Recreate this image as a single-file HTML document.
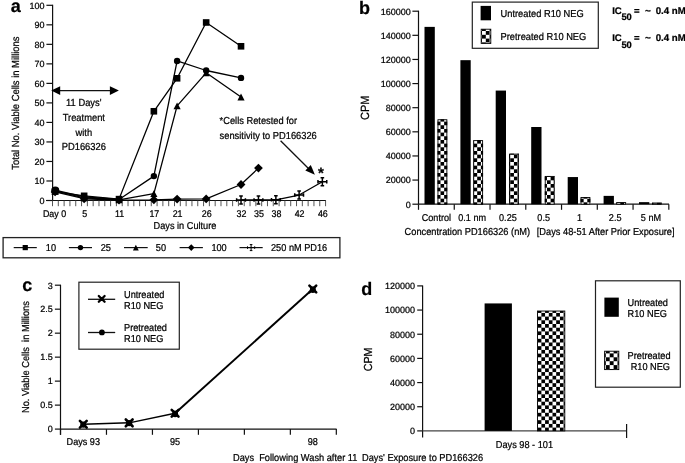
<!DOCTYPE html>
<html><head><meta charset="utf-8"><style>
html,body{margin:0;padding:0;background:#fff;}
svg{display:block;filter:blur(0.35px);}
text{font-family:"Liberation Sans", sans-serif;text-rendering:geometricPrecision;fill:#000;stroke:#000;stroke-width:0.22px;}
</style></head><body>
<svg width="685" height="463" viewBox="0 0 685 463">
<defs><pattern id="pb" patternUnits="userSpaceOnUse" x="436.83" y="121.6" width="7.34" height="7.34"><rect width="7.34" height="7.34" fill="#fff"/><rect width="3.67" height="3.67" fill="#000"/><rect x="3.67" y="3.67" width="3.67" height="3.67" fill="#000"/></pattern><pattern id="pbl" patternUnits="userSpaceOnUse" x="478.2" y="31" width="7.6" height="7.6"><rect width="7.6" height="7.6" fill="#fff"/><rect width="3.8" height="3.8" fill="#000"/><rect x="3.8" y="3.8" width="3.8" height="3.8" fill="#000"/></pattern><pattern id="pd" patternUnits="userSpaceOnUse" x="534" y="312.9" width="7.4" height="7.4"><rect width="7.4" height="7.4" fill="#fff"/><rect width="3.7" height="3.7" fill="#000"/><rect x="3.7" y="3.7" width="3.7" height="3.7" fill="#000"/></pattern><pattern id="pdl" patternUnits="userSpaceOnUse" x="601.9" y="353.4" width="7.8" height="7.8"><rect width="7.8" height="7.8" fill="#fff"/><rect width="3.9" height="3.9" fill="#000"/><rect x="3.9" y="3.9" width="3.9" height="3.9" fill="#000"/></pattern></defs>
<rect width="685" height="463" fill="#fff"/>
<text x="10.7" y="11.5" font-size="18" text-anchor="start" font-weight="bold">a</text>
<line x1="52.6" y1="4.8" x2="52.6" y2="200.5" stroke="#111" stroke-width="1.2"/>
<line x1="46.4" y1="200.5" x2="52.6" y2="200.5" stroke="#111" stroke-width="1.2"/>
<text x="44.5" y="203.8" font-size="9.0" text-anchor="end">0</text>
<line x1="46.4" y1="180.98" x2="52.6" y2="180.98" stroke="#111" stroke-width="1.2"/>
<text x="44.5" y="184.28" font-size="9.0" text-anchor="end">10</text>
<line x1="46.4" y1="161.46" x2="52.6" y2="161.46" stroke="#111" stroke-width="1.2"/>
<text x="44.5" y="164.76" font-size="9.0" text-anchor="end">20</text>
<line x1="46.4" y1="141.94" x2="52.6" y2="141.94" stroke="#111" stroke-width="1.2"/>
<text x="44.5" y="145.24" font-size="9.0" text-anchor="end">30</text>
<line x1="46.4" y1="122.42" x2="52.6" y2="122.42" stroke="#111" stroke-width="1.2"/>
<text x="44.5" y="125.72" font-size="9.0" text-anchor="end">40</text>
<line x1="46.4" y1="102.9" x2="52.6" y2="102.9" stroke="#111" stroke-width="1.2"/>
<text x="44.5" y="106.2" font-size="9.0" text-anchor="end">50</text>
<line x1="46.4" y1="83.38" x2="52.6" y2="83.38" stroke="#111" stroke-width="1.2"/>
<text x="44.5" y="86.68" font-size="9.0" text-anchor="end">60</text>
<line x1="46.4" y1="63.86" x2="52.6" y2="63.86" stroke="#111" stroke-width="1.2"/>
<text x="44.5" y="67.16" font-size="9.0" text-anchor="end">70</text>
<line x1="46.4" y1="44.34" x2="52.6" y2="44.34" stroke="#111" stroke-width="1.2"/>
<text x="44.5" y="47.64" font-size="9.0" text-anchor="end">80</text>
<line x1="46.4" y1="24.82" x2="52.6" y2="24.82" stroke="#111" stroke-width="1.2"/>
<text x="44.5" y="28.12" font-size="9.0" text-anchor="end">90</text>
<line x1="46.4" y1="5.3" x2="52.6" y2="5.3" stroke="#111" stroke-width="1.2"/>
<text x="44.5" y="8.6" font-size="9.0" text-anchor="end">100</text>
<line x1="46" y1="200.5" x2="325.9" y2="200.5" stroke="#111" stroke-width="1.2"/>
<line x1="52.5" y1="200.5" x2="52.5" y2="206.2" stroke="#444" stroke-width="0.9"/>
<line x1="58.31" y1="200.5" x2="58.31" y2="206.2" stroke="#444" stroke-width="0.9"/>
<line x1="64.12" y1="200.5" x2="64.12" y2="206.2" stroke="#444" stroke-width="0.9"/>
<line x1="69.93" y1="200.5" x2="69.93" y2="206.2" stroke="#444" stroke-width="0.9"/>
<line x1="75.74" y1="200.5" x2="75.74" y2="206.2" stroke="#444" stroke-width="0.9"/>
<line x1="81.55" y1="200.5" x2="81.55" y2="206.2" stroke="#444" stroke-width="0.9"/>
<line x1="87.36" y1="200.5" x2="87.36" y2="206.2" stroke="#444" stroke-width="0.9"/>
<line x1="93.17" y1="200.5" x2="93.17" y2="206.2" stroke="#444" stroke-width="0.9"/>
<line x1="98.98" y1="200.5" x2="98.98" y2="206.2" stroke="#444" stroke-width="0.9"/>
<line x1="104.79" y1="200.5" x2="104.79" y2="206.2" stroke="#444" stroke-width="0.9"/>
<line x1="110.6" y1="200.5" x2="110.6" y2="206.2" stroke="#444" stroke-width="0.9"/>
<line x1="116.41" y1="200.5" x2="116.41" y2="206.2" stroke="#444" stroke-width="0.9"/>
<line x1="122.22" y1="200.5" x2="122.22" y2="206.2" stroke="#444" stroke-width="0.9"/>
<line x1="128.03" y1="200.5" x2="128.03" y2="206.2" stroke="#444" stroke-width="0.9"/>
<line x1="133.84" y1="200.5" x2="133.84" y2="206.2" stroke="#444" stroke-width="0.9"/>
<line x1="139.65" y1="200.5" x2="139.65" y2="206.2" stroke="#444" stroke-width="0.9"/>
<line x1="145.46" y1="200.5" x2="145.46" y2="206.2" stroke="#444" stroke-width="0.9"/>
<line x1="151.27" y1="200.5" x2="151.27" y2="206.2" stroke="#444" stroke-width="0.9"/>
<line x1="157.08" y1="200.5" x2="157.08" y2="206.2" stroke="#444" stroke-width="0.9"/>
<line x1="162.89" y1="200.5" x2="162.89" y2="206.2" stroke="#444" stroke-width="0.9"/>
<line x1="168.7" y1="200.5" x2="168.7" y2="206.2" stroke="#444" stroke-width="0.9"/>
<line x1="174.51" y1="200.5" x2="174.51" y2="206.2" stroke="#444" stroke-width="0.9"/>
<line x1="180.32" y1="200.5" x2="180.32" y2="206.2" stroke="#444" stroke-width="0.9"/>
<line x1="186.13" y1="200.5" x2="186.13" y2="206.2" stroke="#444" stroke-width="0.9"/>
<line x1="191.94" y1="200.5" x2="191.94" y2="206.2" stroke="#444" stroke-width="0.9"/>
<line x1="197.75" y1="200.5" x2="197.75" y2="206.2" stroke="#444" stroke-width="0.9"/>
<line x1="203.56" y1="200.5" x2="203.56" y2="206.2" stroke="#444" stroke-width="0.9"/>
<line x1="209.37" y1="200.5" x2="209.37" y2="206.2" stroke="#444" stroke-width="0.9"/>
<line x1="215.18" y1="200.5" x2="215.18" y2="206.2" stroke="#444" stroke-width="0.9"/>
<line x1="220.99" y1="200.5" x2="220.99" y2="206.2" stroke="#444" stroke-width="0.9"/>
<line x1="226.8" y1="200.5" x2="226.8" y2="206.2" stroke="#444" stroke-width="0.9"/>
<line x1="232.61" y1="200.5" x2="232.61" y2="206.2" stroke="#444" stroke-width="0.9"/>
<line x1="238.42" y1="200.5" x2="238.42" y2="206.2" stroke="#444" stroke-width="0.9"/>
<line x1="244.23" y1="200.5" x2="244.23" y2="206.2" stroke="#444" stroke-width="0.9"/>
<line x1="250.04" y1="200.5" x2="250.04" y2="206.2" stroke="#444" stroke-width="0.9"/>
<line x1="255.85" y1="200.5" x2="255.85" y2="206.2" stroke="#444" stroke-width="0.9"/>
<line x1="261.66" y1="200.5" x2="261.66" y2="206.2" stroke="#444" stroke-width="0.9"/>
<line x1="267.47" y1="200.5" x2="267.47" y2="206.2" stroke="#444" stroke-width="0.9"/>
<line x1="273.28" y1="200.5" x2="273.28" y2="206.2" stroke="#444" stroke-width="0.9"/>
<line x1="279.09" y1="200.5" x2="279.09" y2="206.2" stroke="#444" stroke-width="0.9"/>
<line x1="284.9" y1="200.5" x2="284.9" y2="206.2" stroke="#444" stroke-width="0.9"/>
<line x1="290.71" y1="200.5" x2="290.71" y2="206.2" stroke="#444" stroke-width="0.9"/>
<line x1="296.52" y1="200.5" x2="296.52" y2="206.2" stroke="#444" stroke-width="0.9"/>
<line x1="302.33" y1="200.5" x2="302.33" y2="206.2" stroke="#444" stroke-width="0.9"/>
<line x1="308.14" y1="200.5" x2="308.14" y2="206.2" stroke="#444" stroke-width="0.9"/>
<line x1="313.95" y1="200.5" x2="313.95" y2="206.2" stroke="#444" stroke-width="0.9"/>
<line x1="319.76" y1="200.5" x2="319.76" y2="206.2" stroke="#444" stroke-width="0.9"/>
<line x1="325.57" y1="200.5" x2="325.57" y2="206.2" stroke="#444" stroke-width="0.9"/>
<text transform="translate(54.5 216.8) scale(1 1.09)" font-size="8.9" text-anchor="middle">Day 0</text>
<text transform="translate(84.65 216.8) scale(1 1.09)" font-size="8.9" text-anchor="middle">5</text>
<text transform="translate(119.51 216.8) scale(1 1.09)" font-size="8.9" text-anchor="middle">11</text>
<text transform="translate(154.37 216.8) scale(1 1.09)" font-size="8.9" text-anchor="middle">17</text>
<text transform="translate(177.61 216.8) scale(1 1.09)" font-size="8.9" text-anchor="middle">21</text>
<text transform="translate(206.66 216.8) scale(1 1.09)" font-size="8.9" text-anchor="middle">26</text>
<text transform="translate(241.52 216.8) scale(1 1.09)" font-size="8.9" text-anchor="middle">32</text>
<text transform="translate(258.95 216.8) scale(1 1.09)" font-size="8.9" text-anchor="middle">35</text>
<text transform="translate(276.38 216.8) scale(1 1.09)" font-size="8.9" text-anchor="middle">38</text>
<text transform="translate(299.62 216.8) scale(1 1.09)" font-size="8.9" text-anchor="middle">42</text>
<text transform="translate(322.86 216.8) scale(1 1.09)" font-size="8.9" text-anchor="middle">46</text>
<text transform="translate(185 228.6) scale(1 1.09)" font-size="9.2" text-anchor="middle">Days in Culture</text>
<text x="0" y="0" font-size="9.42" text-anchor="middle" transform="translate(19.1 103.1) rotate(-90) scale(1 1.09)">Total No. Viable Cells in Millions</text>
<polyline points="55.1,191.52 84.15,195.82 119.01,199.13 153.87,111.29 177.11,78.3 206.16,22.48 241.02,46.29" fill="none" stroke="#000" stroke-width="1.3" stroke-linejoin="round"/>
<polyline points="55.1,190.15 84.15,196.79 119.01,199.52 153.87,176.1 177.11,60.93 206.16,70.5 241.02,77.91" fill="none" stroke="#000" stroke-width="1.3" stroke-linejoin="round"/>
<polyline points="55.1,190.94 84.15,197.77 119.01,199.91 153.87,193.67 177.11,105.83 206.16,72.84 241.02,97.04" fill="none" stroke="#000" stroke-width="1.3" stroke-linejoin="round"/>
<polyline points="55.1,191.91 84.15,198.74 119.01,200.11 153.87,199.82 177.11,199.04 206.16,198.94 241.02,184.49 258.45,168.1" fill="none" stroke="#000" stroke-width="1.3" stroke-linejoin="round"/>
<polyline points="241.02,200.01 258.45,200.01 275.88,199.82 299.12,195.03 322.36,181.76" fill="none" stroke="#000" stroke-width="1.3" stroke-linejoin="round"/>
<polygon points="55.1,187.51 59.5,191.91 55.1,196.31 50.7,191.91" fill="#000"/>
<polygon points="84.15,194.34 88.55,198.74 84.15,203.14 79.75,198.74" fill="#000"/>
<polygon points="119.01,195.71 123.41,200.11 119.01,204.51 114.61,200.11" fill="#000"/>
<polygon points="153.87,195.42 158.27,199.82 153.87,204.22 149.47,199.82" fill="#000"/>
<polygon points="177.11,194.64 181.51,199.04 177.11,203.44 172.71,199.04" fill="#000"/>
<polygon points="206.16,194.54 210.56,198.94 206.16,203.34 201.76,198.94" fill="#000"/>
<polygon points="241.02,180.09 245.42,184.49 241.02,188.89 236.62,184.49" fill="#000"/>
<polygon points="258.45,163.7 262.85,168.1 258.45,172.5 254.05,168.1" fill="#000"/>
<polygon points="55.1,187.49 58.69,194.39 51.51,194.39" fill="#000"/>
<polygon points="84.15,194.32 87.74,201.22 80.56,201.22" fill="#000"/>
<polygon points="119.01,196.46 122.6,203.36 115.42,203.36" fill="#000"/>
<polygon points="153.87,190.22 157.46,197.12 150.28,197.12" fill="#000"/>
<polygon points="177.11,102.38 180.7,109.28 173.52,109.28" fill="#000"/>
<polygon points="206.16,69.39 209.75,76.29 202.57,76.29" fill="#000"/>
<polygon points="241.02,93.59 244.61,100.49 237.43,100.49" fill="#000"/>
<circle cx="55.1" cy="190.15" r="3.2" fill="#000"/>
<circle cx="84.15" cy="196.79" r="3.2" fill="#000"/>
<circle cx="119.01" cy="199.52" r="3.2" fill="#000"/>
<circle cx="153.87" cy="176.1" r="3.2" fill="#000"/>
<circle cx="177.11" cy="60.93" r="3.2" fill="#000"/>
<circle cx="206.16" cy="70.5" r="3.2" fill="#000"/>
<circle cx="241.02" cy="77.91" r="3.2" fill="#000"/>
<rect x="51.8" y="188.22" width="6.6" height="6.6" fill="#000"/>
<rect x="80.85" y="192.52" width="6.6" height="6.6" fill="#000"/>
<rect x="115.71" y="195.83" width="6.6" height="6.6" fill="#000"/>
<rect x="150.57" y="107.99" width="6.6" height="6.6" fill="#000"/>
<rect x="173.81" y="75" width="6.6" height="6.6" fill="#000"/>
<rect x="202.86" y="19.18" width="6.6" height="6.6" fill="#000"/>
<rect x="237.72" y="42.99" width="6.6" height="6.6" fill="#000"/>
<path d="M241.02 196.01V204.01M236.62 200.01H245.42M239.22 196.01H242.82M239.22 204.01H242.82M236.62 198.21V201.81M245.42 198.21V201.81" stroke="#000" stroke-width="1.5" fill="none"/>
<path d="M258.45 196.01V204.01M254.05 200.01H262.85M256.65 196.01H260.25M256.65 204.01H260.25M254.05 198.21V201.81M262.85 198.21V201.81" stroke="#000" stroke-width="1.5" fill="none"/>
<path d="M275.88 195.82V203.82M271.48 199.82H280.28M274.08 195.82H277.68M274.08 203.82H277.68M271.48 198.02V201.62M280.28 198.02V201.62" stroke="#000" stroke-width="1.5" fill="none"/>
<path d="M299.12 191.03V199.03M294.72 195.03H303.52M297.32 191.03H300.92M297.32 199.03H300.92M294.72 193.23V196.83M303.52 193.23V196.83" stroke="#000" stroke-width="1.5" fill="none"/>
<path d="M322.36 177.76V185.76M317.96 181.76H326.76M320.56 177.76H324.16M320.56 185.76H324.16M317.96 179.96V183.56M326.76 179.96V183.56" stroke="#000" stroke-width="1.5" fill="none"/>
<circle cx="55.3" cy="190.54" r="4" fill="#000"/>
<line x1="57" y1="90.6" x2="114" y2="90.6" stroke="#111" stroke-width="1.4"/>
<polygon points="51.2,90.6 60.2,86.2 60.2,95" fill="#000"/>
<polygon points="118.9,90.6 109.9,86.2 109.9,95" fill="#000"/>
<text transform="translate(83.8 105.9) scale(1 1.09)" font-size="9.35" text-anchor="middle">11 Days'</text>
<text transform="translate(83.8 120.7) scale(1 1.09)" font-size="9.35" text-anchor="middle">Treatment</text>
<text transform="translate(83.8 135.5) scale(1 1.09)" font-size="9.35" text-anchor="middle">with</text>
<text transform="translate(83.8 150.3) scale(1 1.09)" font-size="9.35" text-anchor="middle">PD166326</text>
<text transform="translate(219.6 124) scale(1 1.09)" font-size="9.3" text-anchor="start">*Cells Retested for</text>
<text transform="translate(219.6 138.9) scale(1 1.09)" font-size="9.3" text-anchor="start">sensitivity to PD166326</text>
<line x1="280.6" y1="140.8" x2="310" y2="170" stroke="#111" stroke-width="1.3"/>
<polygon points="314.9,174.8 305.3,170.4 310.8,164.9" fill="#000"/>
<text x="318" y="177.5" font-size="15" text-anchor="start" font-weight="bold">*</text>
<rect x="3.1" y="237.6" width="336.8" height="20.2" fill="none" stroke="#222" stroke-width="1.3"/>
<line x1="13.7" y1="247.6" x2="36.8" y2="247.6" stroke="#111" stroke-width="1.2"/>
<rect x="22.65" y="245" width="5.2" height="5.2" fill="#000"/>
<text transform="translate(45.8 251) scale(1 1.09)" font-size="9.2" text-anchor="start">10</text>
<line x1="68.9" y1="247.6" x2="92" y2="247.6" stroke="#111" stroke-width="1.2"/>
<circle cx="80.45" cy="247.6" r="2.7" fill="#000"/>
<text transform="translate(100.7 251) scale(1 1.09)" font-size="9.2" text-anchor="start">25</text>
<line x1="124" y1="247.6" x2="147.7" y2="247.6" stroke="#111" stroke-width="1.2"/>
<polygon points="135.85,244.8 138.76,250.4 132.94,250.4" fill="#000"/>
<text transform="translate(155.8 251) scale(1 1.09)" font-size="9.2" text-anchor="start">50</text>
<line x1="179.6" y1="247.6" x2="202.9" y2="247.6" stroke="#111" stroke-width="1.2"/>
<polygon points="191.25,244.3 194.55,247.6 191.25,250.9 187.95,247.6" fill="#000"/>
<text transform="translate(211.4 251) scale(1 1.09)" font-size="9.2" text-anchor="start">100</text>
<line x1="239.5" y1="247.6" x2="262.7" y2="247.6" stroke="#111" stroke-width="1.2"/>
<path d="M251.1 244.6V250.6M247.5 247.6H254.7M249.8 244.6H252.4M249.8 250.6H252.4M247.5 246.3V248.9M254.7 246.3V248.9" stroke="#000" stroke-width="1.0" fill="none"/>
<text transform="translate(271 251) scale(1 1.09)" font-size="9.2" text-anchor="start">250 nM PD16</text>
<text x="358.9" y="13.6" font-size="18" text-anchor="start" font-weight="bold">b</text>
<line x1="418.5" y1="10.7" x2="418.5" y2="204.2" stroke="#111" stroke-width="1.2"/>
<line x1="412.4" y1="11.2" x2="418.5" y2="11.2" stroke="#111" stroke-width="1.2"/>
<text x="410.8" y="14.5" font-size="9.0" text-anchor="end">160000</text>
<line x1="412.4" y1="35.32" x2="418.5" y2="35.32" stroke="#111" stroke-width="1.2"/>
<text x="410.8" y="38.62" font-size="9.0" text-anchor="end">140000</text>
<line x1="412.4" y1="59.45" x2="418.5" y2="59.45" stroke="#111" stroke-width="1.2"/>
<text x="410.8" y="62.75" font-size="9.0" text-anchor="end">120000</text>
<line x1="412.4" y1="83.57" x2="418.5" y2="83.57" stroke="#111" stroke-width="1.2"/>
<text x="410.8" y="86.87" font-size="9.0" text-anchor="end">100000</text>
<line x1="412.4" y1="107.7" x2="418.5" y2="107.7" stroke="#111" stroke-width="1.2"/>
<text x="410.8" y="111" font-size="9.0" text-anchor="end">80000</text>
<line x1="412.4" y1="131.82" x2="418.5" y2="131.82" stroke="#111" stroke-width="1.2"/>
<text x="410.8" y="135.12" font-size="9.0" text-anchor="end">60000</text>
<line x1="412.4" y1="155.95" x2="418.5" y2="155.95" stroke="#111" stroke-width="1.2"/>
<text x="410.8" y="159.25" font-size="9.0" text-anchor="end">40000</text>
<line x1="412.4" y1="180.07" x2="418.5" y2="180.07" stroke="#111" stroke-width="1.2"/>
<text x="410.8" y="183.38" font-size="9.0" text-anchor="end">20000</text>
<line x1="412.4" y1="204.2" x2="418.5" y2="204.2" stroke="#111" stroke-width="1.2"/>
<text x="410.8" y="207.5" font-size="9.0" text-anchor="end">0</text>
<line x1="418.5" y1="204.2" x2="669" y2="204.2" stroke="#111" stroke-width="1.2"/>
<line x1="418.5" y1="204.2" x2="418.5" y2="209.8" stroke="#111" stroke-width="1.2"/>
<line x1="454.26" y1="204.2" x2="454.26" y2="209.8" stroke="#111" stroke-width="1.2"/>
<line x1="490.02" y1="204.2" x2="490.02" y2="209.8" stroke="#111" stroke-width="1.2"/>
<line x1="525.78" y1="204.2" x2="525.78" y2="209.8" stroke="#111" stroke-width="1.2"/>
<line x1="561.54" y1="204.2" x2="561.54" y2="209.8" stroke="#111" stroke-width="1.2"/>
<line x1="597.3" y1="204.2" x2="597.3" y2="209.8" stroke="#111" stroke-width="1.2"/>
<line x1="633.06" y1="204.2" x2="633.06" y2="209.8" stroke="#111" stroke-width="1.2"/>
<line x1="668.82" y1="204.2" x2="668.82" y2="209.8" stroke="#111" stroke-width="1.2"/>
<rect x="424.5" y="26.88" width="10.3" height="177.32" fill="#000"/>
<rect x="437.5" y="119.28" width="9.8" height="84.92" fill="url(#pb)"/>
<rect x="437.95" y="119.73" width="8.9" height="84.47" fill="none" stroke="#000" stroke-width="0.9"/>
<text transform="translate(436.38 220.8) scale(1 1.09)" font-size="9.1" text-anchor="middle">Control</text>
<rect x="460.4" y="60.17" width="10.3" height="144.03" fill="#000"/>
<rect x="473.26" y="140.15" width="9.8" height="64.05" fill="url(#pb)"/>
<rect x="473.71" y="140.6" width="8.9" height="63.6" fill="none" stroke="#000" stroke-width="0.9"/>
<text transform="translate(472.14 220.8) scale(1 1.09)" font-size="9.1" text-anchor="middle">0.1 nm</text>
<rect x="495.7" y="90.57" width="10.3" height="113.63" fill="#000"/>
<rect x="509.02" y="153.66" width="9.8" height="50.54" fill="url(#pb)"/>
<rect x="509.47" y="154.11" width="8.9" height="50.09" fill="none" stroke="#000" stroke-width="0.9"/>
<text transform="translate(507.9 220.8) scale(1 1.09)" font-size="9.1" text-anchor="middle">0.25</text>
<rect x="531.2" y="127" width="10.3" height="77.2" fill="#000"/>
<rect x="544.78" y="175.97" width="9.8" height="28.23" fill="url(#pb)"/>
<rect x="545.23" y="176.42" width="8.9" height="27.78" fill="none" stroke="#000" stroke-width="0.9"/>
<text transform="translate(543.66 220.8) scale(1 1.09)" font-size="9.1" text-anchor="middle">0.5</text>
<rect x="567.7" y="177.06" width="10.3" height="27.14" fill="#000"/>
<rect x="580.54" y="197.08" width="9.8" height="7.12" fill="url(#pb)"/>
<rect x="580.99" y="197.53" width="8.9" height="6.67" fill="none" stroke="#000" stroke-width="0.9"/>
<text transform="translate(579.42 220.8) scale(1 1.09)" font-size="9.1" text-anchor="middle">1</text>
<rect x="603.6" y="195.88" width="10.3" height="8.32" fill="#000"/>
<rect x="616.3" y="202.15" width="9.8" height="2.05" fill="url(#pb)"/>
<rect x="616.75" y="202.6" width="8.9" height="1.6" fill="none" stroke="#000" stroke-width="0.9"/>
<text transform="translate(615.18 220.8) scale(1 1.09)" font-size="9.1" text-anchor="middle">2.5</text>
<rect x="639" y="202.15" width="10.3" height="2.05" fill="#000"/>
<rect x="652.06" y="202.63" width="9.8" height="1.57" fill="url(#pb)"/>
<rect x="652.51" y="203.08" width="8.9" height="1.12" fill="none" stroke="#000" stroke-width="0.9"/>
<text transform="translate(650.94 220.8) scale(1 1.09)" font-size="9.1" text-anchor="middle">5 nM</text>
<text transform="translate(404.6 235.4) scale(1 1.09)" font-size="9.25" text-anchor="start">Concentration PD166326 (nM)</text>
<text transform="translate(536.8 235.4) scale(1 1.09)" font-size="9.25" text-anchor="start">[Days 48-51 After Prior Exposure]</text>
<text x="0" y="0" font-size="10.9" text-anchor="middle" transform="translate(369.3 107.8) rotate(-90) scale(1 1.09)">CPM</text>
<rect x="472.3" y="2.1" width="126" height="46.2" fill="none" stroke="#222" stroke-width="1.2"/>
<rect x="480.6" y="5.9" width="10.4" height="14.4" fill="#000"/>
<rect x="481.2" y="29.2" width="9.6" height="14.2" fill="url(#pbl)" stroke="#000" stroke-width="0.9"/>
<text transform="translate(500.5 16.7) scale(1 1.09)" font-size="9.3" text-anchor="start">Untreated R10 NEG</text>
<text transform="translate(500.5 39.8) scale(1 1.09)" font-size="9.3" text-anchor="start">Pretreated R10 NEG</text>
<text x="612.2" y="13.6" font-size="9.6" text-anchor="start" font-weight="bold">IC</text>
<text x="621.4" y="20.2" font-size="9.4" text-anchor="start" font-weight="bold">50</text>
<text x="634" y="13.6" font-size="9.6" text-anchor="start" font-weight="bold">=</text>
<text x="645" y="13.6" font-size="9.8" text-anchor="start" font-weight="bold">~</text>
<text x="655.7" y="13.6" font-size="9.7" text-anchor="start" font-weight="bold">0.4 nM</text>
<text x="612.2" y="41.1" font-size="9.6" text-anchor="start" font-weight="bold">IC</text>
<text x="621.4" y="47.7" font-size="9.4" text-anchor="start" font-weight="bold">50</text>
<text x="634" y="41.1" font-size="9.6" text-anchor="start" font-weight="bold">=</text>
<text x="645" y="41.1" font-size="9.8" text-anchor="start" font-weight="bold">~</text>
<text x="655.7" y="41.1" font-size="9.7" text-anchor="start" font-weight="bold">0.4 nM</text>
<text x="22.3" y="291.3" font-size="18" text-anchor="start" font-weight="bold">c</text>
<line x1="60.5" y1="284.7" x2="60.5" y2="434.8" stroke="#111" stroke-width="1.2"/>
<line x1="54.9" y1="285.2" x2="60.5" y2="285.2" stroke="#111" stroke-width="1.2"/>
<text x="52.8" y="288.5" font-size="9.0" text-anchor="end">3</text>
<line x1="54.9" y1="309.18" x2="60.5" y2="309.18" stroke="#111" stroke-width="1.2"/>
<text x="52.8" y="312.48" font-size="9.0" text-anchor="end">2.5</text>
<line x1="54.9" y1="333.17" x2="60.5" y2="333.17" stroke="#111" stroke-width="1.2"/>
<text x="52.8" y="336.47" font-size="9.0" text-anchor="end">2</text>
<line x1="54.9" y1="357.15" x2="60.5" y2="357.15" stroke="#111" stroke-width="1.2"/>
<text x="52.8" y="360.45" font-size="9.0" text-anchor="end">1.5</text>
<line x1="54.9" y1="381.13" x2="60.5" y2="381.13" stroke="#111" stroke-width="1.2"/>
<text x="52.8" y="384.43" font-size="9.0" text-anchor="end">1</text>
<line x1="54.9" y1="405.12" x2="60.5" y2="405.12" stroke="#111" stroke-width="1.2"/>
<text x="52.8" y="408.42" font-size="9.0" text-anchor="end">0.5</text>
<line x1="54.9" y1="429.1" x2="60.5" y2="429.1" stroke="#111" stroke-width="1.2"/>
<text x="52.8" y="432.4" font-size="9.0" text-anchor="end">0</text>
<line x1="60.5" y1="429.1" x2="336.6" y2="429.1" stroke="#111" stroke-width="1.2"/>
<line x1="60.5" y1="429.1" x2="60.5" y2="434.8" stroke="#111" stroke-width="1.2"/>
<line x1="106.47" y1="429.1" x2="106.47" y2="434.8" stroke="#111" stroke-width="1.2"/>
<line x1="152.44" y1="429.1" x2="152.44" y2="434.8" stroke="#111" stroke-width="1.2"/>
<line x1="198.41" y1="429.1" x2="198.41" y2="434.8" stroke="#111" stroke-width="1.2"/>
<line x1="244.38" y1="429.1" x2="244.38" y2="434.8" stroke="#111" stroke-width="1.2"/>
<line x1="290.35" y1="429.1" x2="290.35" y2="434.8" stroke="#111" stroke-width="1.2"/>
<line x1="336.32" y1="429.1" x2="336.32" y2="434.8" stroke="#111" stroke-width="1.2"/>
<text transform="translate(83.3 445) scale(1 1.09)" font-size="9.1" text-anchor="middle">Days 93</text>
<text transform="translate(175.1 445) scale(1 1.09)" font-size="9.1" text-anchor="middle">95</text>
<text transform="translate(312.8 445) scale(1 1.09)" font-size="9.1" text-anchor="middle">98</text>
<text x="0" y="0" font-size="9.3" text-anchor="middle" transform="translate(29.0 357.1) rotate(-90) scale(1 1.09)">No. Viable Cells&#160; in Millions</text>
<text transform="translate(233 460.9) scale(1 1.09)" font-size="9.25" text-anchor="start">Days&#160; Following Wash after 11</text>
<text transform="translate(362 460.9) scale(1 1.09)" font-size="9.25" text-anchor="start">Days' Exposure to PD166326</text>
<polyline points="83.3,424.3 129.2,422.86 175.1,413.27" fill="none" stroke="#000" stroke-width="1.5" stroke-linejoin="round"/>
<polyline points="175.1,413.27 312.8,289.04" fill="none" stroke="#000" stroke-width="1.9" stroke-linejoin="round"/>
<circle cx="83.3" cy="424.78" r="3" fill="#000"/>
<circle cx="129.2" cy="423.34" r="3" fill="#000"/>
<circle cx="175.1" cy="414.23" r="3" fill="#000"/>
<circle cx="312.8" cy="290" r="3" fill="#000"/>
<path d="M79.9 420.9L86.7 427.7M86.7 420.9L79.9 427.7" stroke="#000" stroke-width="2.6" stroke-linecap="round"/>
<rect x="80.7" y="421.7" width="5.2" height="5.2" fill="#000"/>
<path d="M125.8 419.46L132.6 426.26M132.6 419.46L125.8 426.26" stroke="#000" stroke-width="2.6" stroke-linecap="round"/>
<rect x="126.6" y="420.26" width="5.2" height="5.2" fill="#000"/>
<path d="M171.7 409.87L178.5 416.67M178.5 409.87L171.7 416.67" stroke="#000" stroke-width="2.6" stroke-linecap="round"/>
<rect x="172.5" y="410.67" width="5.2" height="5.2" fill="#000"/>
<path d="M309.4 285.64L316.2 292.44M316.2 285.64L309.4 292.44" stroke="#000" stroke-width="2.6" stroke-linecap="round"/>
<rect x="310.2" y="286.44" width="5.2" height="5.2" fill="#000"/>
<rect x="78.9" y="282.2" width="100.4" height="67" fill="none" stroke="#222" stroke-width="1.2"/>
<line x1="88" y1="299.3" x2="115.2" y2="299.3" stroke="#111" stroke-width="1.3"/>
<path d="M98.8 296L104.6 301.8M104.6 296L98.8 301.8" stroke="#000" stroke-width="2.3" stroke-linecap="round"/>
<rect x="99.8" y="297" width="3.8" height="3.8" fill="#000"/>
<line x1="88" y1="332.5" x2="115.2" y2="332.5" stroke="#111" stroke-width="1.3"/>
<circle cx="101.9" cy="332.4" r="2.9" fill="#000"/>
<text transform="translate(124 297.6) scale(1 1.09)" font-size="9.2" text-anchor="start">Untreated</text>
<text transform="translate(124 308.5) scale(1 1.09)" font-size="9.2" text-anchor="start">R10 NEG</text>
<text transform="translate(124 330.9) scale(1 1.09)" font-size="9.2" text-anchor="start">Pretreated</text>
<text transform="translate(124 341.9) scale(1 1.09)" font-size="9.2" text-anchor="start">R10 NEG</text>
<text x="361.2" y="294.8" font-size="18" text-anchor="start" font-weight="bold">d</text>
<line x1="422.6" y1="285.4" x2="422.6" y2="437.4" stroke="#111" stroke-width="1.2"/>
<line x1="417.2" y1="285.9" x2="422.6" y2="285.9" stroke="#111" stroke-width="1.2"/>
<text x="415" y="289.2" font-size="9.0" text-anchor="end">120000</text>
<line x1="417.2" y1="310.07" x2="422.6" y2="310.07" stroke="#111" stroke-width="1.2"/>
<text x="415" y="313.37" font-size="9.0" text-anchor="end">100000</text>
<line x1="417.2" y1="334.23" x2="422.6" y2="334.23" stroke="#111" stroke-width="1.2"/>
<text x="415" y="337.53" font-size="9.0" text-anchor="end">80000</text>
<line x1="417.2" y1="358.4" x2="422.6" y2="358.4" stroke="#111" stroke-width="1.2"/>
<text x="415" y="361.7" font-size="9.0" text-anchor="end">60000</text>
<line x1="417.2" y1="382.57" x2="422.6" y2="382.57" stroke="#111" stroke-width="1.2"/>
<text x="415" y="385.87" font-size="9.0" text-anchor="end">40000</text>
<line x1="417.2" y1="406.73" x2="422.6" y2="406.73" stroke="#111" stroke-width="1.2"/>
<text x="415" y="410.03" font-size="9.0" text-anchor="end">20000</text>
<line x1="417.2" y1="430.9" x2="422.6" y2="430.9" stroke="#111" stroke-width="1.2"/>
<text x="415" y="434.2" font-size="9.0" text-anchor="end">0</text>
<line x1="422.6" y1="430.9" x2="626.6" y2="430.9" stroke="#444" stroke-width="1.3"/>
<line x1="626.6" y1="424" x2="626.6" y2="437.9" stroke="#111" stroke-width="1.2"/>
<rect x="484.6" y="303.42" width="27.3" height="127.48" fill="#000"/>
<rect x="537.5" y="311.03" width="27.3" height="119.87" fill="url(#pd)" stroke="#000" stroke-width="0.9"/>
<text transform="translate(524.4 447.7) scale(1 1.09)" font-size="9.2" text-anchor="middle">Days 98 - 101</text>
<text x="0" y="0" font-size="10.7" text-anchor="middle" transform="translate(371.8 359.4) rotate(-90) scale(1 1.09)">CPM</text>
<rect x="595.5" y="280.8" width="84.8" height="106.4" fill="none" stroke="#222" stroke-width="1.2"/>
<rect x="604.4" y="297.6" width="14.4" height="19.2" fill="#000"/>
<rect x="604.6" y="351.2" width="14.2" height="18.4" fill="url(#pdl)" stroke="#000" stroke-width="0.9"/>
<text transform="translate(627.6 306) scale(1 1.09)" font-size="9.2" text-anchor="start">Untreated</text>
<text transform="translate(627.6 316.6) scale(1 1.09)" font-size="9.2" text-anchor="start">R10 NEG</text>
<text transform="translate(627.6 358.9) scale(1 1.09)" font-size="9.2" text-anchor="start">Pretreated</text>
<text transform="translate(630.7 369.6) scale(1 1.09)" font-size="9.2" text-anchor="start">R10 NEG</text>
</svg>
</body></html>
